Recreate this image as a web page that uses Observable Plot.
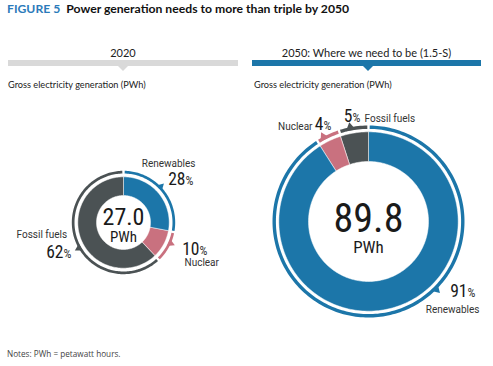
<!DOCTYPE html>
<html><head><meta charset="utf-8">
<script src="https://cdn.jsdelivr.net/npm/d3@7"></script>
<script src="https://cdn.jsdelivr.net/npm/@observablehq/plot@0.6"></script>
<style>
body{margin:0;background:#fff;}
#wrap{position:relative;width:493px;height:366px;overflow:hidden;font-family:Lato,"Open Sans",sans-serif;color:#1a1a1a;}
#wrap svg{position:absolute;left:0;top:0;}
.abs{position:absolute;white-space:nowrap;line-height:1;}
</style></head>
<body><div id="wrap"></div>
<script>
// ---- data ----
const categories = ["Renewables", "Nuclear", "Fossil fuels"];
const panelLabels = ["2020", "2050: Where we need to be (1.5-S)"];
const shares2020 = [28, 10, 62];
const shares2050 = [91, 4, 5];
const totals = [27.0, 89.8];
const unit = "PWh";
const subtitle = "Gross electricity generation (PWh)";
const titleTag = "FIGURE 5";
const titleText = "Power generation needs to more than triple by 2050";
const note = "Notes: PWh = petawatt hours.";

// ---- style / layout ----
const colors = {"Renewables": "#1c76a9", "Nuclear": "#c9717f", "Fossil fuels": "#4b5254"};
const layout = [
  {cx: 123, cy: 222, r0: 27, r1: 45.7, ring: [49, 51.7], hdrX: 8, hdrW: 230, barColor: "#d9d9d9",
   center: {y: 224, size: 24}, unitPos: {y: 241, size: 15},
   labels: {
     "Renewables": {nx: 195, ny: 166, na: "end", px: 185, py: 184, ptr: 46},
     "Nuclear": {nx: 184, ny: 265, na: "start", px: 199, py: 254, ptr: 114},
     "Fossil fuels": {nx: 16, ny: 237, na: "start", px: 63, py: 257, ptr: 240}
   }},
  {cx: 368, cy: 221, r0: 60, r1: 89.7, ring: [92.6, 96], hdrX: 252, hdrW: 229, barColor: "#1c76a9",
   center: {y: 231, size: 40}, unitPos: {y: 252, size: 17},
   labels: {
     "Renewables": {nx: 479, ny: 312, na: "end", px: 467, py: 296, ptr: 135},
     "Nuclear": {nx: 312, ny: 129, na: "end", px: 323, py: 129, ptr: 332},
     "Fossil fuels": {nx: 364, ny: 121, na: "start", px: 352, py: 121, ptr: 349}
   }}
];
const W = 493, H = 366;
const condensed = "'Roboto Condensed','DejaVu Sans Condensed','Liberation Sans Narrow','Arial Narrow',Roboto,sans-serif";

// ---- HTML text parts ----
const wrap = document.getElementById("wrap");
function el(css, html) {
  const d = document.createElement("div");
  d.className = "abs";
  Object.assign(d.style, css);
  if (html != null) d.innerHTML = html;
  wrap.appendChild(d);
  return d;
}
el({left: "7px", top: "3px", fontSize: "12.2px", fontWeight: "bold", color: "#111"},
  `<span style="color:#2b7bba;margin-right:6px">${titleTag}</span>${titleText}`);

// ---- geometry from data ----
const toRad = Math.PI / 180;
function arcPoly(key, color, cx, cy, r0, r1, a0, a1) {
  const n = Math.max(2, Math.ceil((a1 - a0) / 1.5));
  const pts = [];
  for (let i = 0; i <= n; i++) {
    const a = (a0 + (a1 - a0) * i / n) * toRad;
    pts.push({key, color, x: cx + r1 * Math.sin(a), y: cy - r1 * Math.cos(a)});
  }
  for (let i = n; i >= 0; i--) {
    const a = (a0 + (a1 - a0) * i / n) * toRad;
    pts.push({key, color, x: cx + r0 * Math.sin(a), y: cy - r0 * Math.cos(a)});
  }
  return pts;
}
const slices = [], rings = [], pointers = [], names = [], nums = [], pcts = [], centers = [], units = [];
[shares2020, shares2050].forEach((shares, p) => {
  const L = layout[p];
  const angle = d3.scaleLinear().domain([0, d3.sum(shares)]).range([0, 360]);
  let cum = 0;
  categories.forEach((cat, i) => {
    const a0 = angle(cum), a1 = angle(cum + shares[i]);
    cum += shares[i];
    const col = colors[cat];
    slices.push(...arcPoly(`s${p}${i}`, col, L.cx, L.cy, L.r0, L.r1, a0, a1));
    const g = 1.2 / L.ring[1] / toRad;
    rings.push(...arcPoly(`r${p}${i}`, col, L.cx, L.cy, L.ring[0], L.ring[1], a0 + g, a1 - g));
    const lab = L.labels[cat];
    const t = lab.ptr * toRad, hw = (p ? 5 : 4) / L.ring[1];
    const rb = L.ring[0] + 0.5, rt = L.ring[1] + (p ? 5 : 4.5);
    pointers.push(
      {key: `p${p}${i}`, color: col, x: L.cx + rb * Math.sin(t - hw), y: L.cy - rb * Math.cos(t - hw)},
      {key: `p${p}${i}`, color: col, x: L.cx + rt * Math.sin(t), y: L.cy - rt * Math.cos(t)},
      {key: `p${p}${i}`, color: col, x: L.cx + rb * Math.sin(t + hw), y: L.cy - rb * Math.cos(t + hw)});
    names.push({x: lab.nx, y: lab.ny, text: cat, anchor: lab.na});
    nums.push({x: lab.px, y: lab.py, text: String(shares[i])});
    pcts.push({x: lab.px, y: lab.py, text: "%"});
  });
  centers.push({x: L.cx, y: L.center.y, text: totals[p].toFixed(1), size: L.center.size});
  units.push({x: L.cx, y: L.unitPos.y, text: unit, size: L.unitPos.size});

  // header / subtitle
  el({left: L.hdrX + "px", top: "46.5px", width: L.hdrW + "px", textAlign: "center", fontSize: "11px", color: "#222"}, panelLabels[p]);
  el({left: L.hdrX + "px", top: "60px", width: L.hdrW + "px", height: "6px", background: L.barColor});
  el({left: (L.cx - 5) + "px", top: "66px", width: 0, height: 0, borderLeft: "5px solid transparent",
      borderRight: "5px solid transparent", borderTop: "5px solid " + L.barColor});
  el({left: (L.hdrX + (p ? 2 : 0)) + "px", top: "80px", fontSize: "9.2px", color: "#222"}, subtitle);
});
el({left: "7px", top: "350px", fontSize: "8.2px", color: "#444", fontFamily: "'Open Sans',sans-serif"}, note);

const textCommon = {x: "x", y: "y", text: "text", lineAnchor: "bottom", fill: "#1a1a1a"};
const chart = Plot.plot({
  width: W, height: H, margin: 0,
  x: {domain: [0, W], range: [0, W], axis: null},
  y: {domain: [0, H], range: [0, H], axis: null},
  color: {type: "identity"},
  marks: [
    Plot.line(slices, {x: "x", y: "y", z: "key", fill: "color", stroke: "#fff", strokeWidth: 0.5, curve: "linear-closed"}),
    Plot.line(rings, {x: "x", y: "y", z: "key", fill: "color", stroke: "none", curve: "linear-closed"}),
    Plot.line(pointers, {x: "x", y: "y", z: "key", fill: "color", stroke: "none", curve: "linear-closed"}),
    Plot.text(names.filter(d => d.anchor === "start"), {...textCommon, textAnchor: "start", fontSize: 10, fontFamily: "Roboto,sans-serif", fill: "#333"}),
    Plot.text(names.filter(d => d.anchor === "end"), {...textCommon, textAnchor: "end", fontSize: 10, fontFamily: "Roboto,sans-serif", fill: "#333"}),
    Plot.text(nums, {...textCommon, textAnchor: "end", fontSize: 17.5, fontFamily: condensed}),
    Plot.text(pcts, {...textCommon, textAnchor: "start", fontSize: 12.5, fontFamily: condensed, fill: "#333"}),
    Plot.text(centers, {...textCommon, textAnchor: "middle", fontSize: d => d.size, fontFamily: condensed}),
    Plot.text(units, {...textCommon, textAnchor: "middle", fontSize: d => d.size, fontFamily: condensed})
  ]
});
wrap.insertBefore(chart, wrap.firstChild);
</script>
</body></html>
